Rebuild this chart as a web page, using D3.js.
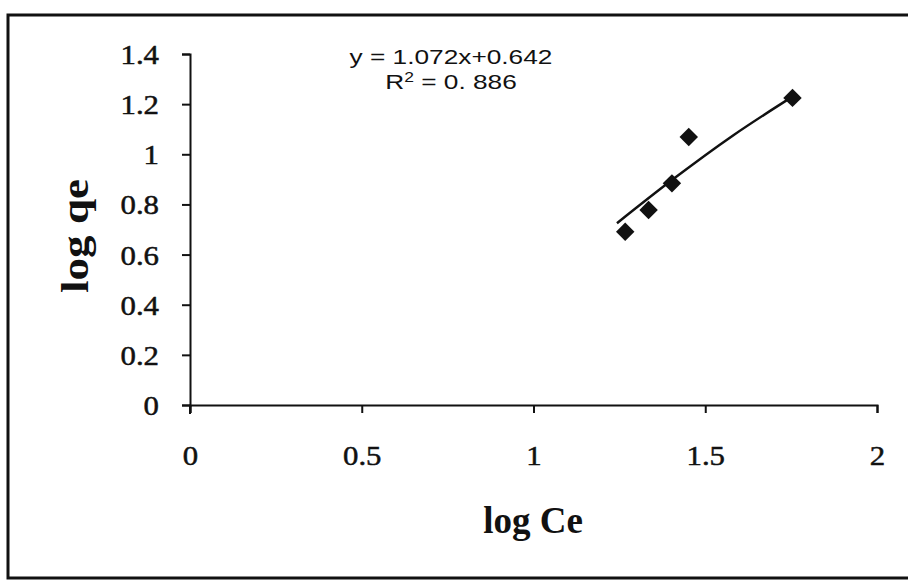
<!DOCTYPE html>
<html>
<head>
<meta charset="utf-8">
<script src="https://cdn.jsdelivr.net/npm/d3@7"></script>
<style>
  body { margin: 0; background: #fff; }
  .tick-label { font-family: "Liberation Serif", "Times New Roman", serif; font-size: 28px; fill: #111; stroke: #111; stroke-width: 0.5px; }
  .axis-title { font-family: "Liberation Serif", "Times New Roman", serif; font-size: 37px; font-weight: bold; fill: #111; }
  .equation { font-family: "Liberation Sans", Arial, sans-serif; font-size: 21px; fill: #111; }
</style>
</head>
<body>
<svg id="chart"></svg>
<script>
// svg size, matches the scanned figure
const width = 908;
const height = 583;

// measured points (log Ce, log qe)
const logCe = [1.267, 1.335, 1.403, 1.452, 1.754];
const logQe = [0.691, 0.778, 0.884, 1.069, 1.225];

// trend line as it was drawn in the figure
const trendCe = [1.243, 1.403, 1.583, 1.754];
const trendQe = [0.725, 0.897, 1.077, 1.230];

const xTicks = [0, 0.5, 1, 1.5, 2];
const yTicks = [0, 0.2, 0.4, 0.6, 0.8, 1, 1.2, 1.4];

const equationText = "y = 1.072x+0.642";
const r2Text = " = 0. 886";

// the scan is stretched sideways, so the tick text is too
const stretch = 1.1;

const svg = d3.select("#chart")
  .attr("width", width)
  .attr("height", height);

const xScale = d3.scaleLinear()
  .domain([0, 2])
  .range([190, 877]);

const yScale = d3.scaleLinear()
  .domain([0, 1.4])
  .range([405, 54]);

drawFrame();
drawAxis();
drawTitles();
drawTrend();
drawPoints();
drawEquation();

function drawFrame() {
  // right edge of the box falls outside the scan
  svg.append("rect")
    .attr("x", 8)
    .attr("y", 15)
    .attr("width", 920)
    .attr("height", 563)
    .attr("fill", "none")
    .attr("stroke", "#111")
    .attr("stroke-width", 3);
}

function drawAxis() {
  let xAxis = d3.axisBottom(xScale)
    .tickValues(xTicks)
    .tickSize(8)
    .tickSizeOuter(8)
    .tickFormat(d3.format("~g"));

  let yAxis = d3.axisLeft(yScale)
    .tickValues(yTicks)
    .tickSize(8)
    .tickSizeOuter(8)
    .tickFormat(d3.format("~g"));

  let xg = svg.append("g")
    .attr("id", "x-axis")
    .attr("transform", translate(0, yScale(0)))
    .call(xAxis);

  let yg = svg.append("g")
    .attr("id", "y-axis")
    .attr("transform", translate(xScale(0), 0))
    .call(yAxis);

  // the y axis pokes a bit below the x axis
  yg.append("line")
    .attr("x1", 0).attr("x2", 0)
    .attr("y1", yScale(0)).attr("y2", yScale(0) + 9)
    .attr("stroke", "#111")
    .attr("stroke-width", 2);

  [xg, yg].forEach(g => {
    g.selectAll("path.domain, line")
      .attr("stroke", "#111")
      .attr("stroke-width", 2);
    g.attr("font-family", null).attr("font-size", null);
  });

  xg.selectAll("text")
    .attr("class", "tick-label")
    .attr("fill", null)
    .attr("x", 0)
    .attr("y", 60)
    .attr("dy", 0)
    .attr("text-anchor", "middle")
    .attr("transform", "scale(" + stretch + ",1)");

  yg.selectAll("text")
    .attr("class", "tick-label")
    .attr("fill", null)
    .attr("x", -31 / stretch)
    .attr("dy", "0.34em")
    .attr("text-anchor", "end")
    .attr("transform", "scale(" + stretch + ",1)");
}

function drawTitles() {
  svg.append("text")
    .attr("class", "axis-title")
    .attr("x", 533)
    .attr("y", 533)
    .attr("text-anchor", "middle")
    .text("log Ce");

  // it is easier to rotate text if you place it in a group first
  let yGroup = svg.append("g")
    .attr("transform", translate(88, 236));

  yGroup.append("text")
    .attr("class", "axis-title")
    .attr("x", 0)
    .attr("y", 0)
    .attr("text-anchor", "middle")
    .attr("transform", "rotate(-90) scale(1.22,1)")
    .text("log qe");
}

function drawTrend() {
  let line = d3.line()
    .x(d => xScale(d[0]))
    .y(d => yScale(d[1]))
    .curve(d3.curveMonotoneX);

  svg.append("path")
    .datum(d3.zip(trendCe, trendQe))
    .attr("d", line)
    .attr("fill", "none")
    .attr("stroke", "#111")
    .attr("stroke-width", 2.5);
}

function drawPoints() {
  let diamond = d3.symbol().type(d3.symbolSquare).size(170);

  svg.append("g")
    .attr("id", "points")
    .selectAll("path")
    .data(d3.zip(logCe, logQe))
    .enter()
    .append("path")
    .attr("d", diamond)
    .attr("transform", d => translate(xScale(d[0]), yScale(d[1])) + " rotate(45)")
    .attr("fill", "#111");
}

function drawEquation() {
  let g = svg.append("g")
    .attr("transform", translate(451, 0) + " scale(1.25,1)");

  g.append("text")
    .attr("class", "equation")
    .attr("x", 0)
    .attr("y", 64)
    .attr("text-anchor", "middle")
    .text(equationText);

  let r2 = g.append("text")
    .attr("class", "equation")
    .attr("x", 0)
    .attr("y", 89)
    .attr("text-anchor", "middle");

  r2.append("tspan").text("R");
  r2.append("tspan").attr("font-size", 14).attr("dy", -7).text("2");
  r2.append("tspan").attr("dy", 7).text(r2Text);
}

function translate(x, y) {
  return "translate(" + String(x) + "," + String(y) + ")";
}
</script>
</body>
</html>
